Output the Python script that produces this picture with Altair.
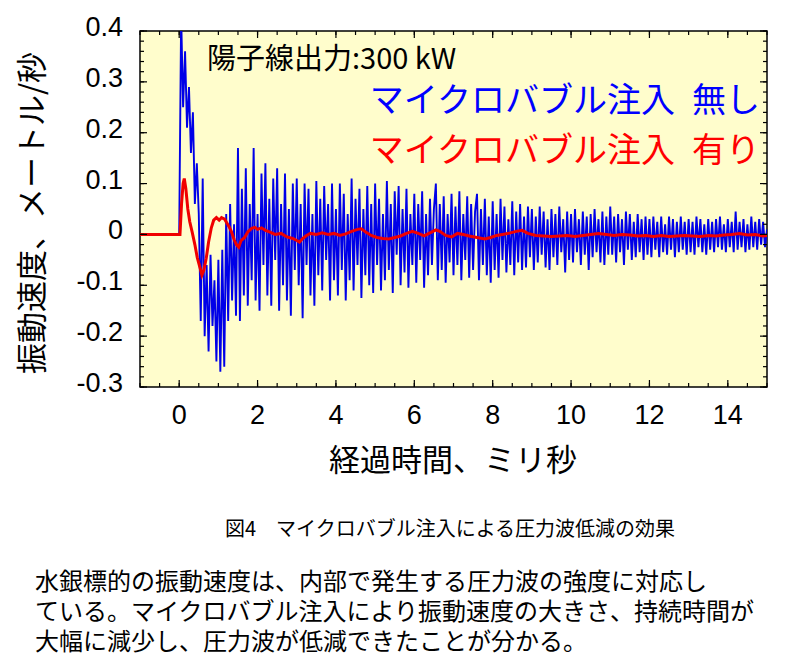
import altair as alt
import pandas as pd
import numpy as np

# ---------------- data ----------------
# Blue: without microbubbles, one value every 0.05 ms from 0 ms to 15 ms, in mm/s
blue_dt_ms = 0.05
blue_mm_s = [
    0, 430, 250, 360, 210, 290, 160, 240, 60, 140, 40, -170, 110, -200, -60, -230, -40, -180, -90, -250,
    -50, -270, -30, -260, 40, -170, 60, -130, 20, -160, 170, -170, 90, -120, 130, -140, 60, -90, 170, -130,
    40, -150, 120, -60, 140, -120, 70, -140, 110, -50, 130, -150, 60, -100, 120, -130, 50, -160, 100, -70,
    110, -100, 60, -165, 100, -60, 90, -120, 40, -140, 105, -80, 70, -110, 95, -50, 60, -130, 100, -90,
    50, -120, 100, -70, 80, -130, 40, -90, 110, -110, 70, -60, 90, -125, 50, -80, 95, -100, 60, -115,
    100, -60, 70, -110, 40, -90, 105, -70, 60, -115, 85, -40, 95, -100, 50, -75, 90, -105, 40, -60,
    80, -95, 60, -50, 85, -105, 40, -80, 70, -60, 50, 100, -90, 60, -70, 75, -95, 40, -55, 80,
    -80, 55, -60, 85, -90, 40, -50, 75, -85, 60, -70, 45, 80, -90, 50, -60, 70, -80, 35, -95,
    65, -70, 40, -85, 70, -50, 55, -75, 30, -60, 65, -80, 45, -55, 60, -70, 35, -65, 55, -45,
    50, -70, 35, -55, 55, -40, 45, -65, 30, -70, 50, -45, 40, -60, 55, -35, 30, -75, 45, -50,
    40, -55, 50, -35, 30, -60, 45, -40, 35, -70, 40, -45, 50, -35, 30, -55, 45, -60, 35, -40,
    55, -40, 35, -55, 40, -35, 30, -60, 45, -30, 40, -50, 25, -45, 40, -35, 30, -50, 35, -40,
    30, -45, 35, -30, 25, -45, 35, -35, 20, -40, 35, -30, 30, -45, 25, -35, 35, -30, 25, -40,
    30, -35, 25, -40, 35, -25, 30, -35, 20, -40, 30, -30, 25, -35, 30, -25, 35, -30, 20, -35,
    30, -25, 25, -35, 45, -30, 25, -25, 30, -35, 20, -30, 35, -25, 25, -30, 30, -20, 25, -25,
    10,
]

# Red: with microbubbles (time in ms, value in mm/s)
red_t_ms = [
    -1.0, 0.02, 0.06, 0.10, 0.13, 0.17, 0.22, 0.27, 0.33, 0.40, 0.46, 0.53, 0.58, 0.63, 0.69, 0.75,
    0.82, 0.88, 0.95, 1.02, 1.08, 1.16, 1.22, 1.28, 1.33, 1.40, 1.46, 1.52, 1.58, 1.67, 1.75, 1.85,
    1.93, 2.00, 2.10, 2.20, 2.30, 2.45, 2.60, 2.75, 2.90, 3.00, 3.07, 3.15, 3.25, 3.35, 3.50, 3.65,
    3.80, 3.95, 4.10, 4.25, 4.40, 4.55, 4.65, 4.75, 4.90, 5.05, 5.20, 5.35, 5.50, 5.65, 5.80, 5.95,
    6.10, 6.25, 6.40, 6.55, 6.65, 6.80, 6.95, 7.10, 7.25, 7.40, 7.60, 7.80, 7.95, 8.10, 8.25, 8.45,
    8.60, 8.75, 8.90, 9.10, 9.30, 9.50, 9.70, 9.90, 10.10, 10.30, 10.50, 10.70, 10.90, 11.10, 11.30,
    11.50, 11.70, 11.90, 12.10, 12.30, 12.50, 12.70, 12.90, 13.10, 13.30, 13.50, 13.70, 13.90, 14.10,
    14.30, 14.50, 14.70, 14.90, 15.00,
]
red_mm_s = [
    0, 0, 60, 100, 110, 90, 50, 25, 5, -20, -45, -65, -80, -70, -47, -15,
    13, 28, 33, 28, 33, 30, 22, 14, 6, -10, -20, -25, -12, -6, 5, 12,
    14, 10, 13, 8, 5, 0, 2, -5, -8, -12, -15, -8, -2, 2, 0, 3,
    0, 2, -2, 1, 6, 10, 11, 5, -2, -6, -8, -9, -6, -3, 2, 6,
    2, -3, 3, 9, 6, -2, -5, 2, 0, -3, -6, -9, -6, -2, 0, 3,
    6, 8, 2, -2, -3, -4, -3, -2, -4, -2, 0, 2, 0, -2, 0,
    -1, -3, -2, -4, -2, -4, -3, -2, -3, -4, -2, -3, -1, 0,
    2, -1, 0, -3, -2,
]

x_ticks_major = [0, 2, 4, 6, 8, 10, 12, 14]
x_tick_labels = ["0", "2", "4", "6", "8", "10", "12", "14"]
y_ticks_major = [-0.3, -0.2, -0.1, 0, 0.1, 0.2, 0.3, 0.4]
y_tick_labels = ["-0.3", "-0.2", "-0.1", "0", "0.1", "0.2", "0.3", "0.4"]

note_text = "陽子線出力:300 kW"
legend_blue = "マイクロバブル注入\u2002無し"
legend_red = "マイクロバブル注入\u2002有り"
y_title = "振動速度、メートル/秒"
x_title = "経過時間、ミリ秒"
caption = "図4　マイクロバブル注入による圧力波低減の効果"
paragraph = [
    "水銀標的の振動速度は、内部で発生する圧力波の強度に対応し",
    "ている。マイクロバブル注入により振動速度の大きさ、持続時間が",
    "大幅に減少し、圧力波が低減できたことが分かる。",
]

# ---------------- tables ----------------
blue_t = [-1.0] + [round(i * blue_dt_ms, 3) for i in range(len(blue_mm_s))]
blue_v = [0.0] + [b / 1000 for b in blue_mm_s]
blue_df = pd.DataFrame({"t": blue_t, "v": blue_v})
red_df = pd.DataFrame({"t": red_t_ms, "v": [r / 1000 for r in red_mm_s]})

x_minor = pd.DataFrame({"t": np.round(np.arange(-1.0, 15.01, 0.5), 3)})
x_major = pd.DataFrame({"t": x_ticks_major, "lab": x_tick_labels})
y_minor = pd.DataFrame({"v": np.round(np.arange(-0.30, 0.401, 0.02), 3)})
y_major = pd.DataFrame({"v": y_ticks_major, "lab": y_tick_labels})

W, H = 627, 356
JP = "Noto Sans CJK JP"
NUM = "Liberation Sans"

xscale = alt.Scale(domain=[-1, 15], nice=False, zero=False)
yscale = alt.Scale(domain=[-0.3, 0.4], nice=False, zero=False)


def X():
    return alt.X("t:Q", scale=xscale, axis=None)


def Y():
    return alt.Y("v:Q", scale=yscale, axis=None)


blue = alt.Chart(blue_df).mark_line(color="#0000E8", strokeWidth=1.9, clip=True).encode(
    x=X(), y=Y(), order="t:Q"
)
red = alt.Chart(red_df).mark_line(color="#F00000", strokeWidth=3, clip=True).encode(
    x=X(), y=Y()
)

tick_layers = []
for df, ln in [(y_minor, 4), (y_major, 7)]:
    tick_layers.append(alt.Chart(df).mark_rule(color="black", strokeWidth=1.2).encode(
        y=Y(), x=alt.value(0), x2=alt.value(ln)))
    tick_layers.append(alt.Chart(df).mark_rule(color="black", strokeWidth=1.2).encode(
        y=Y(), x=alt.value(W), x2=alt.value(W - ln)))
for df, ln in [(x_minor, 4), (x_major, 7)]:
    tick_layers.append(alt.Chart(df).mark_rule(color="black", strokeWidth=1.2).encode(
        x=X(), y=alt.value(H), y2=alt.value(H - ln)))
    tick_layers.append(alt.Chart(df).mark_rule(color="black", strokeWidth=1.2).encode(
        x=X(), y=alt.value(0), y2=alt.value(ln)))

y_labels = alt.Chart(y_major).mark_text(
    font=NUM, fontSize=27, color="black", align="right", baseline="middle", dy=-3
).encode(y=Y(), x=alt.value(-17), text="lab:N")
x_labels = alt.Chart(x_major).mark_text(
    font=NUM, fontSize=27, color="black", align="center", baseline="top"
).encode(x=X(), y=alt.value(H + 16), text="lab:N")


def label(text, px, py, size, color="black", align="left", weight="normal", angle=0):
    return alt.Chart(pd.DataFrame({"label": [text]})).mark_text(
        font=JP, fontSize=size, color=color, align=align, baseline="middle",
        fontWeight=weight, angle=angle
    ).encode(text="label:N", x=alt.value(px), y=alt.value(py))


texts = [
    label(y_title, -106, H / 2 + 4, 31, align="center", angle=270),
    label(x_title, 313, 431, 31, align="center"),
    label(note_text, 67, 29, 29),
    label(legend_blue, 620, 71, 34, color="#0000FF", align="right"),
    label(legend_red, 620, 121, 34, color="#FF0000", align="right"),
    label(caption, 310, 499, 20, align="center"),
    label(paragraph[0], -105, 552, 24),
    label(paragraph[1], -105, 582, 24),
    label(paragraph[2], -105, 612, 24),
]

chart = alt.layer(blue, red, *tick_layers, y_labels, x_labels, *texts).properties(
    width=W, height=H,
    autosize=alt.AutoSizeParams(type="none"),
    padding={"left": 132, "top": 23, "right": 25, "bottom": 277},
    background="white",
).configure_view(fill="#FFFDCC", stroke="black", strokeWidth=1.5)

chart.save("out.html", embed_options={"renderer": "svg", "actions": False})
